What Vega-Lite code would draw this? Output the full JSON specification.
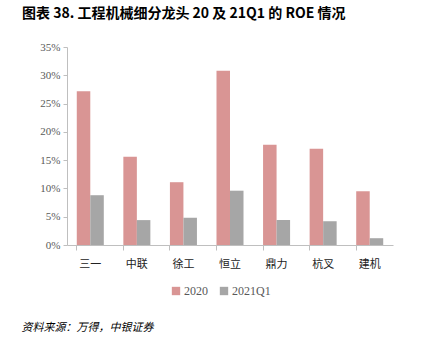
{
  "$schema": "https://vega.github.io/schema/vega-lite/v6.json",
  "width": 326,
  "height": 198,
  "autosize": {"type": "none"},
  "padding": {"left": 67, "top": 47, "right": 33, "bottom": 106},
  "background": "white",
  "title": {
    "text": "图表 38. 工程机械细分龙头 20 及 21Q1 的 ROE 情况",
    "anchor": "start",
    "frame": "group",
    "dx": -45,
    "offset": 20,
    "font": "Noto Sans CJK SC",
    "fontSize": 14,
    "fontWeight": "bold",
    "color": "#000000"
  },
  "data": {
    "values": [
      {"c": "三一", "s": "2020", "v": 0.272},
      {"c": "三一", "s": "2021Q1", "v": 0.088},
      {"c": "中联", "s": "2020", "v": 0.156},
      {"c": "中联", "s": "2021Q1", "v": 0.044},
      {"c": "徐工", "s": "2020", "v": 0.111},
      {"c": "徐工", "s": "2021Q1", "v": 0.048},
      {"c": "恒立", "s": "2020", "v": 0.308},
      {"c": "恒立", "s": "2021Q1", "v": 0.096},
      {"c": "鼎力", "s": "2020", "v": 0.177},
      {"c": "鼎力", "s": "2021Q1", "v": 0.044},
      {"c": "杭叉", "s": "2020", "v": 0.170},
      {"c": "杭叉", "s": "2021Q1", "v": 0.042},
      {"c": "建机", "s": "2020", "v": 0.095},
      {"c": "建机", "s": "2021Q1", "v": 0.012}
    ]
  },
  "mark": {"type": "bar"},
  "encoding": {
    "x": {
      "field": "c",
      "type": "nominal",
      "sort": null,
      "scale": {"paddingInner": 0.42, "paddingOuter": 0.21},
      "axis": {
        "title": "资料来源：万得，中银证券",
        "titleAnchor": "start",
        "titleAlign": "left",
        "titleX": -46,
        "titleY": 76,
        "titleFont": "Noto Sans CJK SC",
        "titleFontSize": 11,
        "titleFontStyle": "italic",
        "titleFontWeight": "normal",
        "titleColor": "#000000",
        "labelAngle": 0,
        "labelFont": "Noto Sans CJK SC",
        "labelFontSize": 11,
        "labelFontWeight": "normal",
        "labelColor": "#222222",
        "labelPadding": 8,
        "bandPosition": 0,
        "ticks": true,
        "tickSize": 5,
        "tickColor": "#bfbfbf",
        "domainColor": "#bfbfbf",
        "grid": false
      }
    },
    "xOffset": {"field": "s", "type": "nominal", "scale": {"paddingInner": 0, "paddingOuter": 0}},
    "y": {
      "field": "v",
      "type": "quantitative",
      "scale": {"domain": [0, 0.35], "nice": false},
      "axis": {
        "title": null,
        "values": [0, 0.05, 0.1, 0.15, 0.2, 0.25, 0.3, 0.35],
        "format": ".0%",
        "labelFont": "Liberation Serif",
        "labelFontSize": 11,
        "labelColor": "#595959",
        "labelPadding": 3,
        "tickSize": 4,
        "tickColor": "#bfbfbf",
        "domainColor": "#bfbfbf",
        "grid": false
      }
    },
    "color": {
      "field": "s",
      "type": "nominal",
      "scale": {"domain": ["2020", "2021Q1"], "range": ["#d99594", "#a6a6a6"]},
      "legend": {
        "title": null,
        "orient": "none",
        "legendX": 103,
        "legendY": 238,
        "direction": "horizontal",
        "symbolType": "square",
        "symbolSize": 70,
        "symbolStrokeWidth": 0,
        "labelFont": "Liberation Serif",
        "labelFontSize": 12,
        "labelColor": "#595959",
        "labelOffset": 2,
        "columnPadding": 10
      }
    }
  },
  "config": {"view": {"stroke": null}}
}
